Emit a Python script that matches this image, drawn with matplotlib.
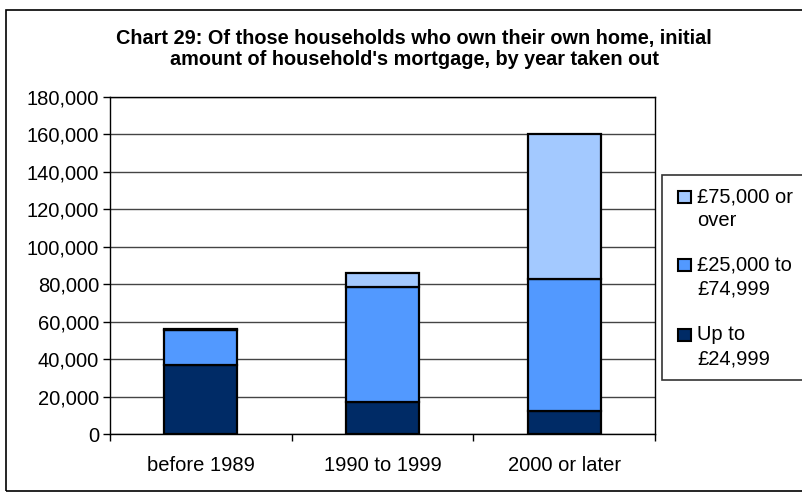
import matplotlib.pyplot as plt
from matplotlib.patches import Rectangle
from matplotlib.ticker import FuncFormatter
import numpy as np

plt.rcParams['font.family'] = ['Liberation Sans', 'DejaVu Sans']

categories = ["before 1989", "1990 to 1999", "2000 or later"]
up_to_24999 = [37000, 17000, 12500]
from_25000_to_74999 = [18700, 61500, 70500]
over_75000 = [600, 7300, 77000]

series_labels = ["Up to\n£24,999", "£25,000 to\n£74,999", "£75,000 or\nover"]
colors = ["#002B66", "#5299FF", "#A3C9FF"]

W, H = 802, 493
fig = plt.figure(figsize=(W / 100, H / 100), dpi=100)

# plot area in pixels
px_left, px_right, px_top, px_bottom = 110, 655, 97, 434
ax = fig.add_axes([px_left / W, 1 - px_bottom / H,
                   (px_right - px_left) / W, (px_bottom - px_top) / H])

x = np.arange(len(categories))
bottom = np.zeros(len(categories))
for vals, col in zip([up_to_24999, from_25000_to_74999, over_75000], colors):
    ax.bar(x, vals, width=0.4, bottom=bottom, color=col,
           edgecolor="black", linewidth=1.6, zorder=3)
    bottom += np.array(vals)

ax.set_xlim(-0.5, len(categories) - 0.5)
ax.set_ylim(0, 180000)
ax.set_yticks(np.arange(0, 180001, 20000))
ax.yaxis.set_major_formatter(FuncFormatter(lambda v, p: f"{int(v):,}"))
ax.grid(axis="y", color="#444444", linewidth=1, zorder=0)

ax.set_xticks(x)
ax.set_xticklabels(categories, fontsize=14.5)
ax.tick_params(axis="x", length=0, pad=16)
ax.set_xticks(np.arange(-0.5, len(categories), 1), minor=True)
ax.tick_params(axis="x", which="minor", length=5, width=1, direction="out")
ax.tick_params(axis="y", labelsize=14.5, length=5, width=1, direction="out", pad=3)

for s in ax.spines.values():
    s.set_color("black")
    s.set_linewidth(1)

fig.text(414 / W, 1 - 49 / H,
         "Chart 29: Of those households who own their own home, initial\n"
         "amount of household's mortgage, by year taken out",
         ha="center", va="center", fontsize=14.3, fontweight="bold",
         linespacing=1.12)

# outer chart border (right edge runs off the picture)
fig.patches.append(Rectangle((6 / W, 1 - 491 / H), 1.05, (491 - 10) / H,
                             transform=fig.transFigure, fill=False,
                             edgecolor="black", linewidth=1.2, clip_on=False))

# legend drawn by hand: box, squares aligned with first label line
leg_left, leg_top, leg_bottom = 662, 175, 380
fig.patches.append(Rectangle((leg_left / W, 1 - leg_bottom / H), 1.0,
                             (leg_bottom - leg_top) / H,
                             transform=fig.transFigure, facecolor="white",
                             edgecolor="#333333", linewidth=1.2, clip_on=False,
                             zorder=5))
entry_y = [197, 265, 335]
line_step = 24
for i, (lab, col) in enumerate(zip(series_labels[::-1], colors[::-1])):
    yc = entry_y[i]
    fig.patches.append(Rectangle((678 / W, 1 - (yc + 6) / H), 13 / W, 12 / H,
                                 transform=fig.transFigure, facecolor=col,
                                 edgecolor="black", linewidth=1.5, zorder=6))
    for j, line in enumerate(lab.split("\n")):
        fig.text(697 / W, 1 - (yc + j * line_step) / H, line, ha="left",
                 va="center", fontsize=14.5, zorder=7)

fig.savefig("out.png", dpi=100)
